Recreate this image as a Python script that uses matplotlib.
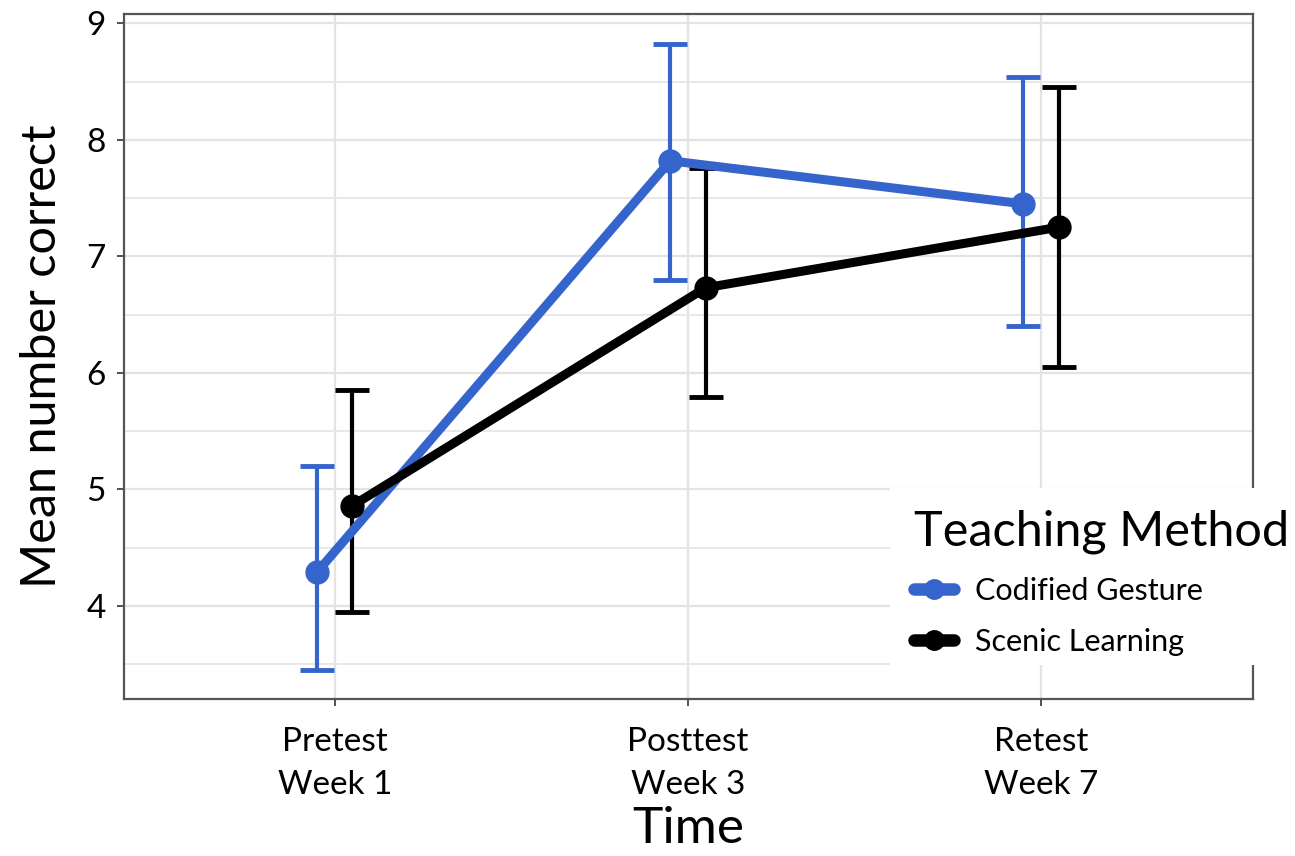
import matplotlib.pyplot as plt
from matplotlib.patches import Rectangle
from matplotlib.ticker import MultipleLocator

plt.rcParams['font.family'] = ['Lato', 'DejaVu Sans']

# Means and error bar limits per teaching method
time_labels = ['Pretest\nWeek 1', 'Posttest\nWeek 3', 'Retest\nWeek 7']
methods = ['Codified Gesture', 'Scenic Learning']
colors = ['#3565cc', '#000000']

gesture_mean = [4.29, 7.82, 7.45]
gesture_low = [3.45, 6.80, 6.40]
gesture_high = [5.20, 8.82, 8.54]

scenic_mean = [4.86, 6.73, 7.25]
scenic_low = [3.95, 5.79, 6.05]
scenic_high = [5.85, 7.76, 8.45]

dodge = 0.05

W, H = 1295, 856
fig = plt.figure(figsize=(W / 100, H / 100), dpi=100)
ax = fig.add_axes([124 / W, (H - 699) / H, (1253 - 124) / W, (699 - 14) / H])

x = [1, 2, 3]
series = [(gesture_mean, gesture_low, gesture_high),
          (scenic_mean, scenic_low, scenic_high)]
handles = []
for i, (mean, low, high) in enumerate(series):
    xs = [v + (i * 2 - 1) * dodge for v in x]
    err = [[m - l for m, l in zip(mean, low)], [h - m for m, h in zip(mean, high)]]
    ax.errorbar(xs, mean, yerr=err, fmt='none', ecolor=colors[i],
                elinewidth=3, capsize=12.5, capthick=3.5, zorder=3)
    ln, = ax.plot(xs, mean, color=colors[i], lw=6.5, marker='o', markersize=16.5,
                  label=methods[i], zorder=4, solid_capstyle='round')
    handles.append(ln)

ax.set_xlim(0.403, 3.60)
ax.set_ylim(3.2, 9.08)
ax.set_xticks(x)
ax.set_xticklabels(time_labels, fontsize=24, linespacing=1.55)
ax.yaxis.set_major_locator(MultipleLocator(1))
ax.yaxis.set_minor_locator(MultipleLocator(0.5))
ax.tick_params(axis='y', which='major', labelsize=24, length=5, width=1.2, colors='#333333',
               labelcolor='black', pad=8)
ax.tick_params(axis='y', which='minor', length=0)
ax.tick_params(axis='x', length=5, width=1.2, colors='#333333', labelcolor='black', pad=15)

ax.grid(True, which='major', color='#e3e3e3', lw=1.6)
ax.grid(True, which='minor', axis='y', color='#e8e8e8', lw=1.4)
ax.set_axisbelow(True)
for s in ax.spines.values():
    s.set_color('#555555')
    s.set_linewidth(1.6)

ax.set_ylabel('Mean number correct', fontsize=35, labelpad=16)
ax.set_xlabel('Time', fontsize=37, labelpad=4)

# white panel behind the legend, running off the right edge
fig.patches.append(Rectangle((890 / W, (H - 665) / H), (W - 890) / W, (665 - 488) / H,
                             transform=fig.transFigure, facecolor='white',
                             edgecolor='none', zorder=5))

leg = fig.legend(handles=handles, labels=methods, title='Teaching Method', loc='upper left',
                 bbox_to_anchor=(914 / W, (H - 510) / H), fontsize=22, title_fontsize=35,
                 frameon=False, handlelength=1.3, handletextpad=0.7,
                 labelspacing=0.75, borderpad=0, borderaxespad=0)
leg._legend_box.align = 'left'
leg._legend_box.sep = 16
leg.set_zorder(6)
for h in leg.legend_handles:
    h.set_markersize(14)
    h.set_linewidth(9)

fig.savefig('out.png', dpi=100, facecolor='white')
